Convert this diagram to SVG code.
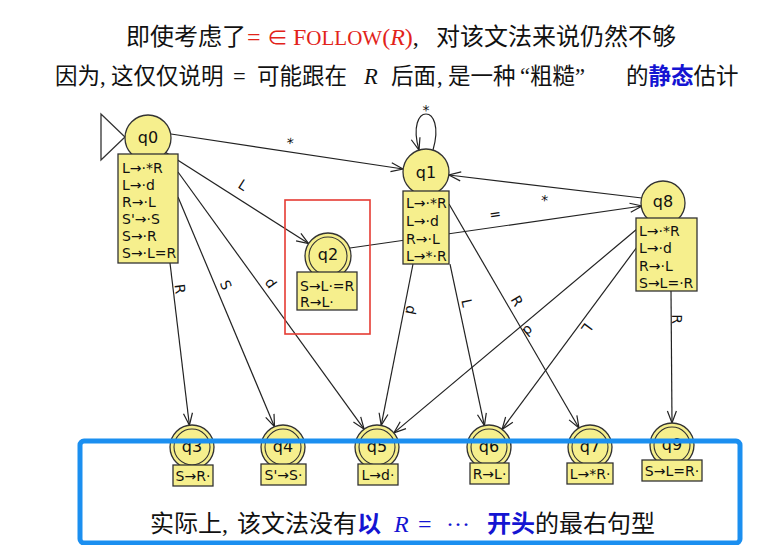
<svg xmlns="http://www.w3.org/2000/svg" width="776" height="545" viewBox="0 0 776 545">
<style>
.st{fill:#f6ef8d;stroke:#333;stroke-width:1.3}
.in{fill:none;stroke:#333;stroke-width:1.1}
.nl{font-family:'DejaVu Sans',sans-serif;font-size:16px;fill:#111;text-anchor:middle;dominant-baseline:central}
.it{font-family:'DejaVu Sans',sans-serif;font-size:14px;fill:#111}
.ed{fill:none;stroke:#222;stroke-width:1.2;marker-end:url(#arr)}
.el{font-family:'DejaVu Sans',sans-serif;font-size:14px;fill:#111;text-anchor:middle;dominant-baseline:central}
.tt{font-family:'Liberation Serif','Noto Sans CJK SC',serif;fill:#111}
.cj{font-family:'Noto Sans CJK SC','Liberation Serif',sans-serif}
.red{fill:#e2231a}
.blu{fill:#1414d2}
</style>
<defs>
<marker id="arr" markerWidth="14" markerHeight="12" refX="13" refY="6" orient="auto" markerUnits="userSpaceOnUse">
<path d="M1,1.5 L13,6 L1,10.5" fill="none" stroke="#222" stroke-width="1.2"/>
</marker>
</defs>
<rect width="776" height="545" fill="#ffffff"/>

<!-- title -->
<text class="tt" y="45" font-size="24">
<tspan class="cj" x="126">即使考虑了</tspan><tspan class="red" x="247">=</tspan><tspan class="red" x="267" font-size="21">∈</tspan><tspan class="red" x="293">F</tspan><tspan class="red" font-size="21">OLLOW</tspan><tspan class="red">(</tspan><tspan class="red" font-style="italic">R</tspan><tspan class="red">)</tspan><tspan>,</tspan><tspan class="cj" x="436">对该文法来说仍然不够</tspan>
</text>
<text class="tt" y="84" font-size="22.5">
<tspan class="cj" x="55">因为</tspan><tspan x="100">,</tspan><tspan class="cj" x="111">这仅仅说明</tspan><tspan x="233">=</tspan><tspan class="cj" x="257">可能跟在</tspan><tspan x="364" font-style="italic">R</tspan><tspan class="cj" x="391">后面</tspan><tspan x="437">,</tspan><tspan class="cj" x="448">是一种</tspan><tspan x="520">“</tspan><tspan class="cj">粗糙</tspan><tspan>”</tspan><tspan class="cj" x="626">的</tspan><tspan class="cj blu" font-weight="bold">静态</tspan><tspan class="cj">估计</tspan>
</text>

<!-- connectors -->
<g id="connectors">
<line class="ed" x1="171" y1="134" x2="403" y2="169"/>
<line class="ed" x1="165" y1="152" x2="308.6" y2="243.6"/>
<line class="ed" x1="170" y1="263" x2="189.4" y2="425.2"/>
<line class="ed" x1="178" y1="197" x2="274.5" y2="426.7"/>
<line class="ed" x1="178" y1="172" x2="364.1" y2="429.2"/>
<path class="ed" d="M433,150 C447,102 405,102 419,150"/>
<line class="ed" x1="413" y1="264" x2="381.2" y2="425.4"/>
<line class="ed" x1="450" y1="264" x2="484.4" y2="425.5"/>
<line class="ed" x1="449" y1="204" x2="579" y2="428"/>
<line class="ed" x1="642" y1="198" x2="448.8" y2="175"/>
<line class="ed" x1="350" y1="248" x2="642" y2="206"/>
<line class="ed" x1="637" y1="229" x2="393.9" y2="432.9"/>
<line class="ed" x1="637" y1="247" x2="502.1" y2="429.3"/>
<line class="ed" x1="671" y1="291" x2="672" y2="423"/>
<text class="el" x="290" y="143" transform="rotate(8.6 290 143)">*</text>
<text class="el" x="243" y="185" transform="rotate(32.5 243 185)">L</text>
<text class="el" x="180" y="289" transform="rotate(83 180 289)">R</text>
<text class="el" x="226" y="285" transform="rotate(66 226 285)">S</text>
<text class="el" x="271" y="283" transform="rotate(54 271 283)">d</text>
<text class="el" x="426" y="110">*</text>
<text class="el" x="411" y="310" transform="rotate(101 411 310)">d</text>
<text class="el" x="467" y="303" transform="rotate(78 467 303)">L</text>
<text class="el" x="517" y="301" transform="rotate(60 517 301)">R</text>
<text class="el" x="545" y="196" transform="rotate(186.6 545 196)">*</text>
<text class="el" x="495" y="214" transform="rotate(-8.2 495 214)">=</text>
<text class="el" x="528" y="331" transform="rotate(140 528 331)">d</text>
<text class="el" x="587" y="328" transform="rotate(126.5 587 328)">L</text>
<text class="el" x="677" y="319" transform="rotate(90 677 319)">R</text>
</g>

<!-- nodes -->
<g id="q0">
<polygon points="101,114 101,160 125,137" fill="#fff" stroke="#333" stroke-width="1.3"/>
<circle class="st" cx="148" cy="138" r="23"/>
<rect class="st" x="118" y="154" width="60" height="109"/>
<text class="nl" x="148" y="137">q0</text>
<text class="it" x="122"><tspan y="173">L→·*R</tspan><tspan x="122" y="190">L→·d</tspan><tspan x="122" y="207">R→·L</tspan><tspan x="122" y="224">S'→·S</tspan><tspan x="122" y="241">S→·R</tspan><tspan x="122" y="258">S→·L=R</tspan></text>
</g>
<g id="q1">
<circle class="st" cx="426" cy="172" r="23"/>
<rect class="st" x="403" y="191" width="46" height="73"/>
<text class="nl" x="426" y="172">q1</text>
<text class="it" x="406"><tspan y="208">L→·*R</tspan><tspan x="406" y="226">L→·d</tspan><tspan x="406" y="244">R→·L</tspan><tspan x="406" y="261">L→*·R</tspan></text>
</g>
<g id="q2">
<circle class="st" cx="328" cy="256" r="23"/>
<circle class="in" cx="328" cy="256" r="19"/>
<rect class="st" x="297" y="272" width="60" height="38"/>
<text class="nl" x="328" y="254">q2</text>
<text class="it" x="300"><tspan y="291">S→L·=R</tspan><tspan x="300" y="307">R→L·</tspan></text>
</g>
<g id="q8">
<circle class="st" cx="663" cy="203" r="22"/>
<rect class="st" x="636" y="218" width="61" height="73"/>
<text class="nl" x="663" y="201">q8</text>
<text class="it" x="639"><tspan y="236">L→·*R</tspan><tspan x="639" y="253">L→·d</tspan><tspan x="639" y="271">R→·L</tspan><tspan x="639" y="288">S→L=·R</tspan></text>
</g>
<g id="q3">
<circle class="st" cx="192" cy="447" r="22"/><circle class="in" cx="192" cy="447" r="18"/>
<rect class="st" x="173" y="465" width="40" height="21"/>
<text class="nl" x="192" y="446">q3</text>
<text class="it" x="193" y="481" text-anchor="middle">S→R·</text>
</g>
<g id="q4">
<circle class="st" cx="283" cy="447" r="22"/><circle class="in" cx="283" cy="447" r="18"/>
<rect class="st" x="261" y="464" width="45" height="21"/>
<text class="nl" x="283" y="446">q4</text>
<text class="it" x="283.5" y="480" text-anchor="middle">S'→S·</text>
</g>
<g id="q5">
<circle class="st" cx="377" cy="447" r="22"/><circle class="in" cx="377" cy="447" r="18"/>
<rect class="st" x="358" y="464" width="40" height="21"/>
<text class="nl" x="377" y="446">q5</text>
<text class="it" x="378" y="480" text-anchor="middle">L→d·</text>
</g>
<g id="q6">
<circle class="st" cx="489" cy="447" r="22"/><circle class="in" cx="489" cy="447" r="18"/>
<rect class="st" x="470" y="463" width="39" height="21"/>
<text class="nl" x="489" y="446">q6</text>
<text class="it" x="489.5" y="479" text-anchor="middle">R→L·</text>
</g>
<g id="q7">
<circle class="st" cx="590" cy="447" r="22"/><circle class="in" cx="590" cy="447" r="18"/>
<rect class="st" x="567" y="463" width="46" height="21"/>
<text class="nl" x="590" y="446">q7</text>
<text class="it" x="590" y="479" text-anchor="middle">L→*R·</text>
</g>
<g id="q9">
<circle class="st" cx="672" cy="445" r="22"/><circle class="in" cx="672" cy="445" r="18"/>
<rect class="st" x="642" y="460" width="60" height="21"/>
<text class="nl" x="672" y="444">q9</text>
<text class="it" x="672" y="476" text-anchor="middle">S→L=R·</text>
</g>

<!-- highlights -->
<rect x="285" y="200" width="85" height="134" fill="none" stroke="#e53b33" stroke-width="1.6"/>
<rect x="80" y="441" width="660" height="102" rx="4" fill="none" stroke="#1b8ff0" stroke-width="5"/>

<text class="tt" y="532" font-size="24">
<tspan class="cj" x="150">实际上</tspan><tspan>,</tspan><tspan class="cj" x="237">该文法没有</tspan><tspan class="cj blu" font-weight="bold">以</tspan><tspan class="blu" x="394" font-style="italic">R</tspan><tspan class="blu" x="418">=</tspan><tspan class="blu" x="446">···</tspan><tspan class="cj blu" x="487" font-weight="bold">开头</tspan><tspan class="cj" x="535">的最右句型</tspan>
</text>
</svg>
